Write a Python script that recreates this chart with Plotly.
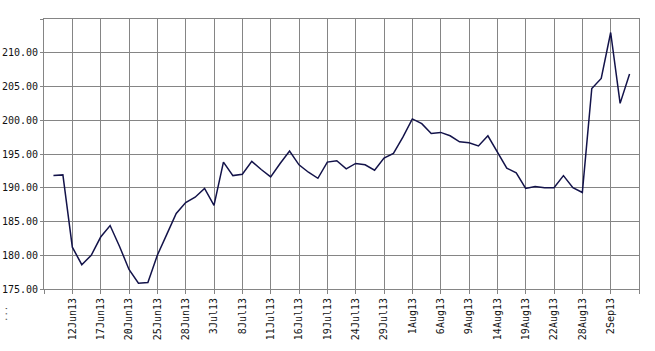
import plotly.graph_objects as go

dates = ["10Jun13", "11Jun13", "12Jun13", "13Jun13", "14Jun13", "17Jun13", "18Jun13", "19Jun13",
         "20Jun13", "21Jun13", "24Jun13", "25Jun13", "26Jun13", "27Jun13", "28Jun13", "1Jul13",
         "2Jul13", "3Jul13", "4Jul13", "5Jul13", "8Jul13", "9Jul13", "10Jul13", "11Jul13",
         "12Jul13", "15Jul13", "16Jul13", "17Jul13", "18Jul13", "19Jul13", "22Jul13", "23Jul13",
         "24Jul13", "25Jul13", "26Jul13", "29Jul13", "30Jul13", "31Jul13", "1Aug13", "2Aug13",
         "5Aug13", "6Aug13", "7Aug13", "8Aug13", "9Aug13", "12Aug13", "13Aug13", "14Aug13",
         "15Aug13", "16Aug13", "19Aug13", "20Aug13", "21Aug13", "22Aug13", "23Aug13", "27Aug13",
         "28Aug13", "29Aug13", "30Aug13", "2Sep13", "3Sep13", "4Sep13"]

values = [191.8, 191.9, 181.2, 178.6, 180.0, 182.7, 184.4, 181.3, 177.9, 175.85, 175.95, 180.0,
          183.1, 186.2, 187.8, 188.6, 189.9, 187.4, 193.8, 191.8, 192.0, 193.9, 192.7, 191.6,
          193.6, 195.45, 193.4, 192.3, 191.4, 193.8, 194.0, 192.8, 193.6, 193.4, 192.6, 194.4,
          195.1, 197.5, 200.2, 199.5, 198.05, 198.2, 197.7, 196.8, 196.65, 196.2, 197.7, 195.3,
          192.9, 192.2, 189.9, 190.2, 190.0, 190.0, 191.8, 190.0, 189.3, 204.7, 206.2, 213.0,
          202.5, 206.85]

tick_labels = ["12Jun13", "17Jun13", "20Jun13", "25Jun13", "28Jun13", "3Jul13", "8Jul13",
               "11Jul13", "16Jul13", "19Jul13", "24Jul13", "29Jul13", "1Aug13", "6Aug13",
               "9Aug13", "14Aug13", "19Aug13", "22Aug13", "28Aug13", "2Sep13"]

y_ticks = [175, 180, 185, 190, 195, 200, 205, 210]

x = list(range(1, len(dates) + 1))
tickvals = [0] + [dates.index(t) + 1 for t in tick_labels] + [len(dates) + 1]
ticktext = [""] + tick_labels + [""]

fig = go.Figure()
fig.add_trace(go.Scatter(x=x, y=values, mode="lines",
                         line=dict(color="#13134a", width=1.5), hoverinfo="skip"))

grid = "#858585"
fig.update_layout(
    width=655, height=351,
    margin=dict(l=44, r=16, t=19, b=62),
    paper_bgcolor="white", plot_bgcolor="white",
    showlegend=False,
    font=dict(family="DejaVu Sans Mono", color="#111111"),
    xaxis=dict(range=[0, len(dates) + 1], tickmode="array", tickvals=tickvals, ticktext=ticktext,
               tickangle=-90, tickfont=dict(size=10, family="DejaVu Sans Mono"),
               showgrid=True, gridcolor=grid, gridwidth=1, automargin=False,
               showline=True, linecolor=grid, linewidth=1, mirror=True,
               ticks="outside", ticklen=4, tickcolor=grid, zeroline=False),
    yaxis=dict(range=[175, 215], tickmode="array", tickvals=y_ticks + [215],
               ticktext=[f"{v:.2f}" for v in y_ticks] + [""],
               tickfont=dict(size=10, family="DejaVu Sans Mono"),
               showgrid=True, gridcolor=grid, gridwidth=1, automargin=False,
               showline=True, linecolor=grid, linewidth=1, mirror=True,
               ticks="outside", ticklen=3, tickcolor=grid, zeroline=False),
)
fig.add_annotation(text="...", x=(4 - 44) / 595, y=-(314 - 289) / 270,
                   xref="x domain", yref="y domain", showarrow=False,
                   xanchor="center", yanchor="middle",
                   textangle=-90, font=dict(size=9, color="#555555"))
fig.write_html("out.html")
